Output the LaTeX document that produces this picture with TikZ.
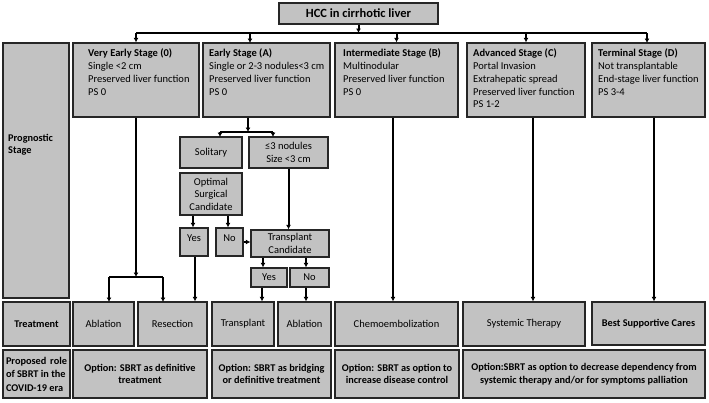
\documentclass[tikz,border=0pt]{standalone}
\usepackage{fontspec}
\setmainfont{Carlito}
\usetikzlibrary{arrows.meta}
\definecolor{boxgray}{RGB}{194,194,194}
\tikzset{
  box/.style={draw=black!85, line width=1.3pt, fill=boxgray, inner sep=2pt, align=center,
    font=\fontsize{10.5}{12.5}\selectfont},
  hd/.style={font=\fontsize{10.3}{12.5}\selectfont\bfseries},
  stagetxt/.style={anchor=north west, inner sep=0pt, align=left, font=\fontsize{10.5}{12.7}\selectfont},
  flow/.style={line width=2pt, -{Latex[length=4.5pt,width=5pt]}},
  link/.style={line width=2pt},
}
\begin{document}
\begin{tikzpicture}[x=1pt,y=-1pt]
\useasboundingbox (0,0) rectangle (709,402);
% root
\node[box, font=\fontsize{12.5}{14}\selectfont\bfseries, minimum width=159pt, minimum height=21pt] (hcc) at (358.5,13.5) {HCC in cirrhotic liver};
% prognostic stages
\node[box, minimum width=66pt, minimum height=255pt] (prog) at (36,170.5) {};
\node[stagetxt, hd] (progtxt) at (8,134) {Prognostic\\Stage};
\node[box, minimum width=126pt, minimum height=74pt] (vearly) at (136,80) {};
\node[box, minimum width=127pt, minimum height=74pt] (early) at (266.5,80) {};
\node[box, minimum width=123pt, minimum height=74pt] (inter) at (396.5,80) {};
\node[box, minimum width=118pt, minimum height=74pt] (adv) at (526,80) {};
\node[box, minimum width=113pt, minimum height=74pt] (term) at (648.5,80) {};
\node[stagetxt] (vearlytxt) at (88,49) {\textbf{Very Early Stage (0)}\\Single <2 cm\\Preserved liver function\\PS 0};
\node[stagetxt] (earlytxt) at (209,49) {\textbf{Early Stage (A)}\\Single or 2-3 nodules<3 cm\\Preserved liver function\\PS 0};
\node[stagetxt] (intertxt) at (343,49) {\textbf{Intermediate Stage (B)}\\Multinodular\\Preserved liver function\\PS 0};
\node[stagetxt] (advtxt) at (473,49) {\textbf{Advanced Stage (C)}\\Portal Invasion\\Extrahepatic spread\\Preserved liver function\\PS 1-2};
\node[stagetxt] (termtxt) at (598,49) {\textbf{Terminal Stage (D)}\\Not transplantable\\End-stage liver function\\PS 3-4};
% early stage branch
\node[box, minimum width=62pt, minimum height=31pt] (solit) at (211,152.5) {Solitary};
\node[box, minimum width=79pt, minimum height=31pt] (nodul) at (288.5,152.5) {≤3 nodules\\Size <3 cm};
\node[box, minimum width=62pt, minimum height=42pt] (osc) at (211,194) {Optimal\\Surgical\\Candidate};
\node[box, minimum width=28pt, text height=11pt, text depth=13pt] (yesa) at (194,242) {Yes};
\node[box, minimum width=27pt, text height=11pt, text depth=13pt] (noa) at (229.5,242) {No};
\node[box, minimum width=78pt, minimum height=27pt] (tcand) at (290,243.5) {Transplant\\Candidate};
\node[box, minimum width=36pt, minimum height=19pt] (yesb) at (269,277.5) {Yes};
\node[box, minimum width=39pt, minimum height=19pt] (nob) at (309.5,277.5) {No};
% treatment row
\node[box, hd, minimum width=67pt, minimum height=44pt] (treat) at (36.5,324) {Treatment};
\node[box, minimum width=61pt, minimum height=44pt] (abla) at (103.5,324) {Ablation};
\node[box, minimum width=69pt, minimum height=44pt] (resec) at (172.5,324) {Resection};
\node[box, minimum width=62pt, minimum height=44pt] (transp) at (243,324) {Transplant};
\node[box, minimum width=53pt, minimum height=44pt] (ablb) at (304.5,324) {Ablation};
\node[box, minimum width=123pt, minimum height=44pt] (chemo) at (396.5,324) {Chemoembolization};
\node[box, minimum width=122pt, minimum height=44pt] (syst) at (524,324) {Systemic Therapy};
\node[box, hd, minimum width=113pt, minimum height=43pt] (bsc) at (648.5,323.5) {Best Supportive Cares};
% SBRT row
\node[box, hd, minimum width=67pt, minimum height=48pt, align=left, font=\fontsize{10.3}{13.5}\selectfont\bfseries] (role) at (36.5,374) {\makebox[61pt][s]{Proposed role}\\of SBRT in the\\COVID-19 era};
\node[box, hd, minimum width=134pt, minimum height=48pt] (opta) at (140,374) {Option: SBRT as definitive\\treatment};
\node[box, hd, minimum width=119pt, minimum height=48pt] (optb) at (271.5,374) {Option: SBRT as bridging\\or definitive treatment};
\node[box, hd, minimum width=124pt, minimum height=48pt] (optc) at (397,374) {Option: SBRT as option to\\increase disease control};
\node[box, hd, minimum width=242pt, minimum height=48pt] (optd) at (584,374) {Option:SBRT as option to decrease dependency from\\systemic therapy and/or for symptoms palliation};
% root split
\coordinate (hubl) at (136,33);
\coordinate (hubr) at (647,33);
\coordinate (earlyin) at (250,43);
\coordinate (termin) at (647,43);
\draw[flow] (hcc.south) -- (hcc.south |- hubl);
\draw[link] (hubl) -- (hubr);
\draw[flow] (hubl) -- (vearly.north);
\draw[flow] (earlyin |- hubl) -- (earlyin);
\draw[flow] (inter.north |- hubl) -- (inter.north);
\draw[flow] (adv.north |- hubl) -- (adv.north);
\draw[flow] (hubr) -- (termin);
% early split
\coordinate (ehub) at (248,132);
\coordinate (solin) at (220,137);
\coordinate (nodin) at (273,137);
\draw[flow] (early.south -| ehub) -- (ehub);
\draw[link] (solin |- ehub) -- (nodin |- ehub);
\draw[flow] (solin |- ehub) -- (solin);
\draw[flow] (nodin |- ehub) -- (nodin);
\draw[flow] (nodul.south) -- (nodul.south |- tcand.north);
\draw[flow] (osc.south -| 193,0) -- (yesa.north -| 193,0);
\draw[flow] (osc.south -| 228,0) -- (noa.north -| 228,0);
\draw[flow] (noa.east) -- (noa.east -| tcand.west);
\draw[flow] (tcand.south -| 263,0) -- (yesb.north -| 263,0);
\draw[flow] (tcand.south -| 306,0) -- (nob.north -| 306,0);
\draw[flow] (yesb.south -| 262,0) -- (transp.north -| 262,0);
\draw[flow] (nob.south -| 306,0) -- (ablb.north -| 306,0);
\draw[flow] (yesa.south -| 195,0) -- (resec.north -| 195,0);
% very early split
\coordinate (vhub) at (136,277);
\coordinate (ablin) at (109,302);
\coordinate (resin) at (163,302);
\draw[flow] (vearly.south) -- (vhub);
\draw[link] (ablin |- vhub) -- (resin |- vhub);
\draw[flow] (ablin |- vhub) -- (ablin);
\draw[flow] (resin |- vhub) -- (resin);
% other stages
\draw[flow] (inter.south -| 393,0) -- (chemo.north -| 393,0);
\draw[flow] (adv.south -| 533,0) -- (syst.north -| 533,0);
\draw[flow] (term.south -| 654,0) -- (bsc.north -| 654,0);
\end{tikzpicture}
\end{document}
